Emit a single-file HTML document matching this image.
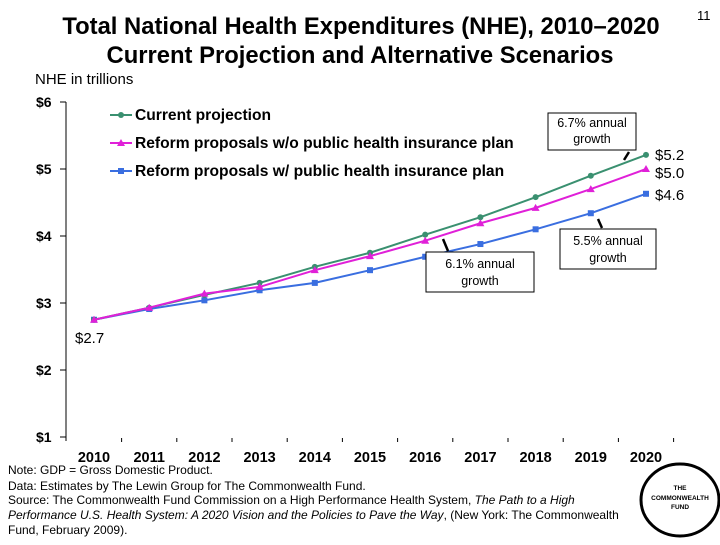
<!DOCTYPE html>
<html><head><meta charset="utf-8"><style>
body{margin:0;background:#fff;}
svg text{font-family:"Liberation Sans",Arial,sans-serif;}
</style></head><body>
<svg width="720" height="540" viewBox="0 0 720 540">
<text x="361" y="34" text-anchor="middle" font-size="23.8" font-weight="bold">Total National Health Expenditures (NHE), 2010–2020</text>
<text x="360" y="63" text-anchor="middle" font-size="23.8" font-weight="bold">Current Projection and Alternative Scenarios</text>
<text x="697" y="20" font-size="13">11</text>
<text x="35" y="84" font-size="15">NHE in trillions</text>
<g id="axes"></g>
<g id="series"></g>
<g>
<line x1="110" y1="115" x2="132" y2="115" stroke="#3a9070" stroke-width="2"/><circle cx="121" cy="115" r="3" fill="#3a9070"/>
<text x="135" y="120" font-size="15.6" font-weight="bold">Current projection</text>
<line x1="110" y1="143" x2="132" y2="143" stroke="#e020d8" stroke-width="2"/><polygon points="121,139 125,146 117,146" fill="#e020d8"/>
<text x="135" y="148" font-size="15.6" font-weight="bold">Reform proposals w/o public health insurance plan</text>
<line x1="110" y1="171" x2="132" y2="171" stroke="#3a6ee0" stroke-width="2"/><rect x="118" y="168" width="6" height="6" fill="#3a6ee0"/>
<text x="135" y="176" font-size="15.6" font-weight="bold">Reform proposals w/ public health insurance plan</text>
</g>
<g>
<rect x="548" y="113" width="88" height="37" fill="#fff" stroke="#000"/>
<text x="592" y="127" text-anchor="middle" font-size="12.5">6.7% annual</text><text x="592" y="143" text-anchor="middle" font-size="12.5">growth</text>
<line x1="624" y1="160" x2="629" y2="152" stroke="#000" stroke-width="2.5"/>
<rect x="426" y="252" width="108" height="40" fill="#fff" stroke="#000"/>
<text x="480" y="268" text-anchor="middle" font-size="12.5">6.1% annual</text><text x="480" y="285" text-anchor="middle" font-size="12.5">growth</text>
<line x1="443" y1="239" x2="448" y2="251" stroke="#000" stroke-width="2.5"/>
<rect x="560" y="229" width="96" height="40" fill="#fff" stroke="#000"/>
<text x="608" y="245" text-anchor="middle" font-size="12.5">5.5% annual</text><text x="608" y="262" text-anchor="middle" font-size="12.5">growth</text>
<line x1="598" y1="219" x2="602" y2="228" stroke="#000" stroke-width="2.5"/>
<text x="655" y="160" font-size="15">$5.2</text>
<text x="655" y="178" font-size="15">$5.0</text>
<text x="655" y="200" font-size="15">$4.6</text>
<text x="75" y="343" font-size="15">$2.7</text>
</g>
<g font-size="12">
<text x="8" y="474">Note: GDP = Gross Domestic Product.</text>
<text x="8" y="490">Data: Estimates by The Lewin Group for The Commonwealth Fund.</text>
<text x="8" y="504">Source: The Commonwealth Fund Commission on a High Performance Health System, <tspan font-style="italic">The Path to a High</tspan></text>
<text x="8" y="519"><tspan font-style="italic">Performance U.S. Health System: A 2020 Vision and the Policies to Pave the Way</tspan>, (New York: The Commonwealth</text>
<text x="8" y="534">Fund, February 2009).</text>
</g>
<g>
<ellipse cx="680" cy="500" rx="39" ry="36" fill="#fff" stroke="#000" stroke-width="3"/>
<text x="680" y="490" text-anchor="middle" font-size="6.5" font-weight="bold">THE</text>
<text x="680" y="500" text-anchor="middle" font-size="6.5" font-weight="bold">COMMONWEALTH</text>
<text x="680" y="509" text-anchor="middle" font-size="6.5" font-weight="bold">FUND</text>
</g>
</svg>
<script>
const years=[2010,2011,2012,2013,2014,2015,2016,2017,2018,2019,2020];
const yTicks=[1,2,3,4,5,6];
const currentProjection=[2.75,2.93,3.12,3.30,3.54,3.75,4.02,4.28,4.58,4.90,5.21];
const reformWithout=[2.75,2.93,3.14,3.24,3.49,3.70,3.93,4.19,4.42,4.70,5.00];
const reformWith=[2.75,2.91,3.04,3.19,3.30,3.49,3.69,3.88,4.10,4.34,4.63];
const NS="http://www.w3.org/2000/svg";
function xS(i){return 94+i*55.2;}
function yS(v){return 102+(6-v)*67;}
function mk(t,a,p){const e=document.createElementNS(NS,t);for(const k in a)e.setAttribute(k,a[k]);p.appendChild(e);return e;}
const ax=document.getElementById('axes');
const yl=mk('line',{x1:66,y1:yS(6),x2:66,y2:yS(1)+4,stroke:'#000','stroke-width':1},ax);


yTicks.forEach(v=>{
 mk('line',{x1:60,y1:yS(v),x2:66,y2:yS(v),stroke:'#000'},ax);
 const t=mk('text',{x:36,y:yS(v)+5,'font-size':14,'font-weight':'bold'},ax);t.textContent='$'+v;
 
 
});
years.forEach((y,i)=>{
 if(i>0) mk('line',{x1:xS(i)-27.6,y1:yS(1)+1,x2:xS(i)-27.6,y2:yS(1)+5,stroke:'#000'},ax);
 const t=mk('text',{x:xS(i),y:462,'text-anchor':'middle','font-size':14.5,'font-weight':'bold'},ax);t.textContent=y;
 
 
});
mk('line',{x1:xS(10)+27.6,y1:yS(1)+1,x2:xS(10)+27.6,y2:yS(1)+5,stroke:'#000'},ax);
const sg=document.getElementById('series');
function series(vals,color,shape,name){
 const g=mk('g',{},sg);
 
 
 mk('polyline',{points:vals.map((v,i)=>xS(i)+','+yS(v)).join(' '),fill:'none',stroke:color,'stroke-width':2},g);
 vals.forEach((v,i)=>{
  const x=xS(i),y=yS(v);let m;
  if(shape==='c')m=mk('circle',{cx:x,cy:y,r:3,fill:color},g);
  else if(shape==='t')m=mk('polygon',{points:`${x},${y-4} ${x+4},${y+3} ${x-4},${y+3}`,fill:color},g);
  else m=mk('rect',{x:x-3,y:y-3,width:6,height:6,fill:color},g);
  
  
 });
}
series(reformWith,'#3a6ee0','s','series-reform-with-public-plan');
series(currentProjection,'#3a9070','c','series-current-projection');
series(reformWithout,'#e020d8','t','series-reform-without-public-plan');
</script>
</body></html>
